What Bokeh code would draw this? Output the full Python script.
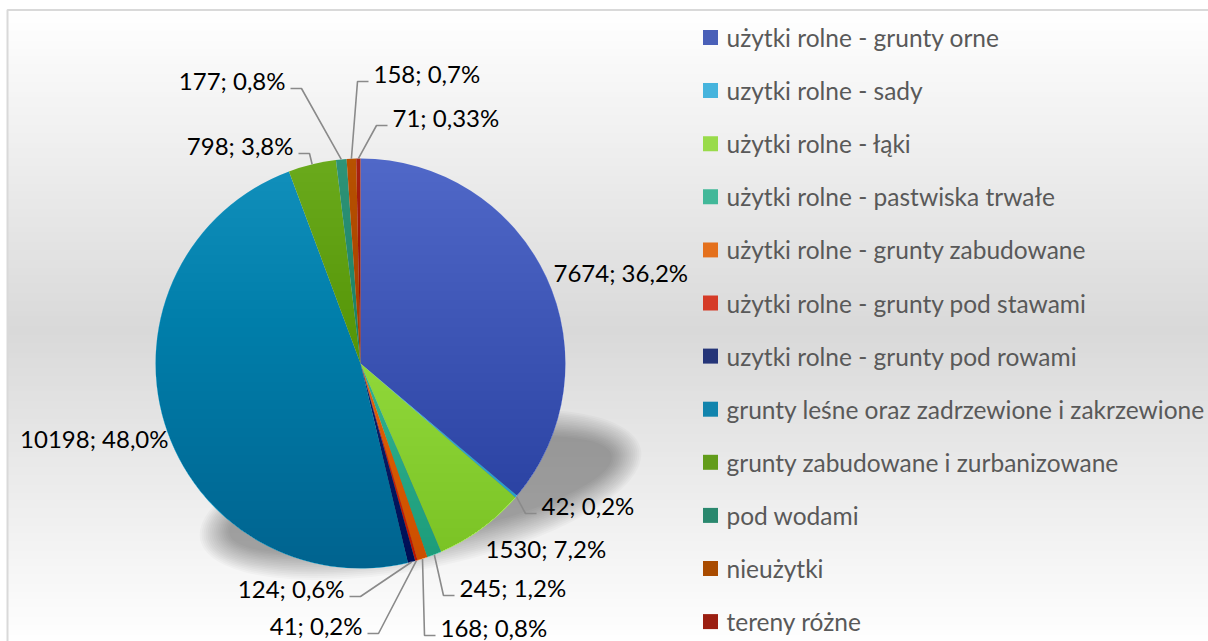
import math
from bokeh.plotting import figure
from bokeh.models import Range1d
from bokeh.core.properties import value
from bokeh.embed import file_html
from bokeh.resources import INLINE

# ---------------- data ----------------
categories = [
    "użytki rolne - grunty orne",
    "uzytki rolne - sady",
    "użytki rolne - łąki",
    "użytki rolne - pastwiska trwałe",
    "użytki rolne - grunty zabudowane",
    "użytki rolne - grunty pod stawami",
    "uzytki rolne - grunty pod rowami",
    "grunty leśne oraz zadrzewione i zakrzewione",
    "grunty zabudowane i zurbanizowane",
    "pod wodami",
    "nieużytki",
    "tereny różne",
]
values = [7674, 42, 1530, 245, 168, 41, 124, 10198, 798, 177, 158, 71]
pct_decimals = [1, 1, 1, 1, 1, 1, 1, 1, 1, 1, 1, 2]

# ---------------- styles / layout ----------------
colors = ["#5068c8", "#4cc4f0", "#a6ee50", "#48c8a6", "#f87a1e", "#e8402a",
          "#283a82", "#1290bc", "#6aaa1c", "#2e9478", "#b85200", "#a82212"]

# label anchor (screen x, screen y, align, has leader)
label_layout = [
    (553, 272, "left", False),
    (541, 505, "left", True),
    (485, 548, "left", False),
    (459, 587, "left", True),
    (440, 627, "left", True),
    (362, 625, "right", True),
    (344, 588, "right", True),
    (168, 438, "right", False),
    (293, 145, "right", True),
    (285, 80, "right", True),
    (373, 73, "left", True),
    (392, 117, "left", True),
]

W, H = 1208, 641
CX, CY, R = 360.0, 363.0, 205.0
FONT = "Lato"


def hex2rgb(c):
    c = c.lstrip("#")
    return tuple(int(c[i:i + 2], 16) for i in (0, 2, 4))


def rgb2hex(r, g, b):
    return "#%02x%02x%02x" % (int(round(r)), int(round(g)), int(round(b)))


def darken(c, f):
    r, g, b = hex2rgb(c)
    return rgb2hex(r * (1 - f), g * (1 - f), b * (1 - f))


p = figure(width=W, height=H, output_backend="svg", toolbar_location=None,
           x_range=Range1d(0, W), y_range=Range1d(-H, 0),
           x_axis_location=None, y_axis_location=None, min_border=0)
p.grid.visible = False
p.outline_line_color = None
p.background_fill_color = "#ffffff"
p.border_fill_color = "#ffffff"

# ---------- background gradient ----------
y_top, y_mid, y_bot = 10.0, 330.0, 645.0
band = 3.0
lefts, rights, tops, bottoms, bcols = [], [], [], [], []
y = y_top
while y < y_bot:
    yc = y + band / 2
    if yc <= y_mid:
        t = (yc - y_top) / (y_mid - y_top)
        g = 255 - (255 - 217) * t
    else:
        t = (yc - y_mid) / (y_bot - y_mid)
        g = 217 + (255 - 217) * t
    lefts.append(7)
    rights.append(1212)
    tops.append(-y)
    bottoms.append(-(y + band + 0.6))
    bcols.append(rgb2hex(g, g, g))
    y += band
p.quad(left=lefts, right=rights, top=tops, bottom=bottoms, fill_color=bcols, line_color=None)

# chart border
p.line(x=[7, 7, 1212], y=[-645, -9.5, -9.5], line_color="#d9d9d9", line_width=2)

# ---------- shadow ----------
SX, SY, SW, SH, SA = 420.0, 494.0, 420.0, 118.0, math.radians(11.6)
n_layers = 16
for i in range(n_layers):
    grow = 30 - 4 * i
    p.ellipse(x=[SX], y=[-SY], width=[SW + grow], height=[SH + grow], angle=[SA],
              fill_color="#000000", fill_alpha=0.022, line_color=None)

# ---------- pie ----------
total = float(sum(values))
cum = [0.0]
for v in values:
    cum.append(cum[-1] + v)
starts = [math.pi / 2 - 2 * math.pi * cum[i] / total for i in range(len(values))]
ends = [math.pi / 2 - 2 * math.pi * cum[i + 1] / total for i in range(len(values))]
p.wedge(x=CX, y=-CY, radius=R, start_angle=starts, end_angle=ends, direction="clock",
        fill_color=colors, line_color=None)

# vertical shading over the pie (darker towards bottom)
N = 45
for i in range(N):
    ys = CY - R + (2 * R) * (i + 0.5) / N
    xs_pts, ys_pts = [], []
    steps = 60
    a0 = math.acos(max(-1.0, min(1.0, (ys - CY) / R)))
    for k in range(steps + 1):
        a = -a0 + 2 * a0 * k / steps
        xs_pts.append(CX + R * math.sin(a))
        ys_pts.append(-(CY + R * math.cos(a)))
    p.patch(x=xs_pts, y=ys_pts, fill_color="#000000", fill_alpha=0.0048, line_color=None)

# ---------- labels ----------
lx_left, ly_left, t_left = [], [], []
lx_right, ly_right, t_right = [], [], []
lead_xs, lead_ys = [], []
for i, v in enumerate(values):
    pct = f"{v / total * 100:.{pct_decimals[i]}f}".replace(".", ",")
    txt = f"{v}; {pct}%"
    lx, ly, al, lead = label_layout[i]
    if al == "left":
        lx_left.append(lx); ly_left.append(-ly); t_left.append(txt)
    else:
        lx_right.append(lx); ly_right.append(-ly); t_right.append(txt)
    if lead:
        mid = (cum[i] + cum[i + 1]) / 2 / total * 2 * math.pi
        sx = CX + R * math.sin(mid)
        sy = CY - R * math.cos(mid)
        h_end = lx - 5 if al == "left" else lx + 5
        ex = h_end - 11 if al == "left" else h_end + 11
        ey = ly + 8
        lead_xs.append([sx, ex, h_end])
        lead_ys.append([-sy, -ey, -ey])

p.multi_line(xs=lead_xs, ys=lead_ys, line_color="#8a8a8a", line_width=1.6)
p.text(x=lx_left, y=ly_left, text=t_left, text_font=value(FONT), text_font_size="24px",
       text_color="#000000", text_align="left", text_baseline="middle")
p.text(x=lx_right, y=ly_right, text=t_right, text_font=value(FONT), text_font_size="24px",
       text_color="#000000", text_align="right", text_baseline="middle")

# ---------- legend ----------
leg_y0, leg_dy = 37.0, 53.1
leg_y = [-(leg_y0 + i * leg_dy) for i in range(len(categories))]
p.rect(x=[710] * len(categories), y=leg_y, width=15, height=15,
       fill_color=[darken(c, 0.08) for c in colors], line_color=None)
p.text(x=[726] * len(categories), y=leg_y, text=categories, text_font=value(FONT),
       text_font_size="24.5px", text_color="#595959", text_align="left", text_baseline="middle")

open("out.html", "w").write(file_html(p, INLINE))
